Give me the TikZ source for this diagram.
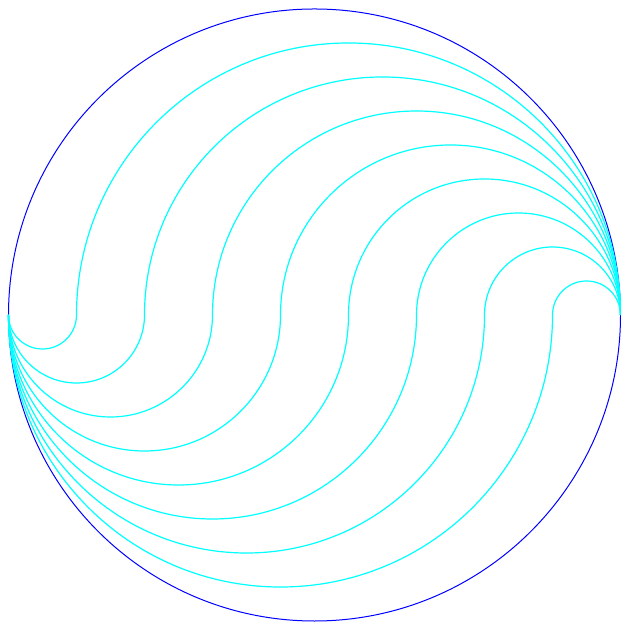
\documentclass[tikz,border=0pt]{standalone}
\usepackage{tikz}
\usetikzlibrary{calc}
\definecolor{rimblue}{RGB}{0,0,255}
\definecolor{waveaqua}{RGB}{0,255,255}

\begin{document}
\begin{tikzpicture}[x=1bp, y=1bp,
    rim/.style={draw=rimblue, line width=1bp},
    wave/.style={draw=waveaqua, line width=1.2bp}
]
\useasboundingbox (0,0) rectangle (621,626);
\coordinate (ctr) at (314.5,311);
\coordinate (lft) at (8.5,311);
\coordinate (rgt) at (620.5,311);
\draw[rim] (ctr) circle[radius=306bp];
% eight S-curves, lower half-circle then upper half-circle
\foreach \k [evaluate=\k as \ra using 34*\k, evaluate=\k as \rb using 34*(9-\k)] in {1,...,8}{
  \draw[wave] (lft) arc[start angle=180, end angle=360, radius=\ra bp]
    arc[start angle=180, end angle=0, radius=\rb bp];
}
\end{tikzpicture}
\end{document}
